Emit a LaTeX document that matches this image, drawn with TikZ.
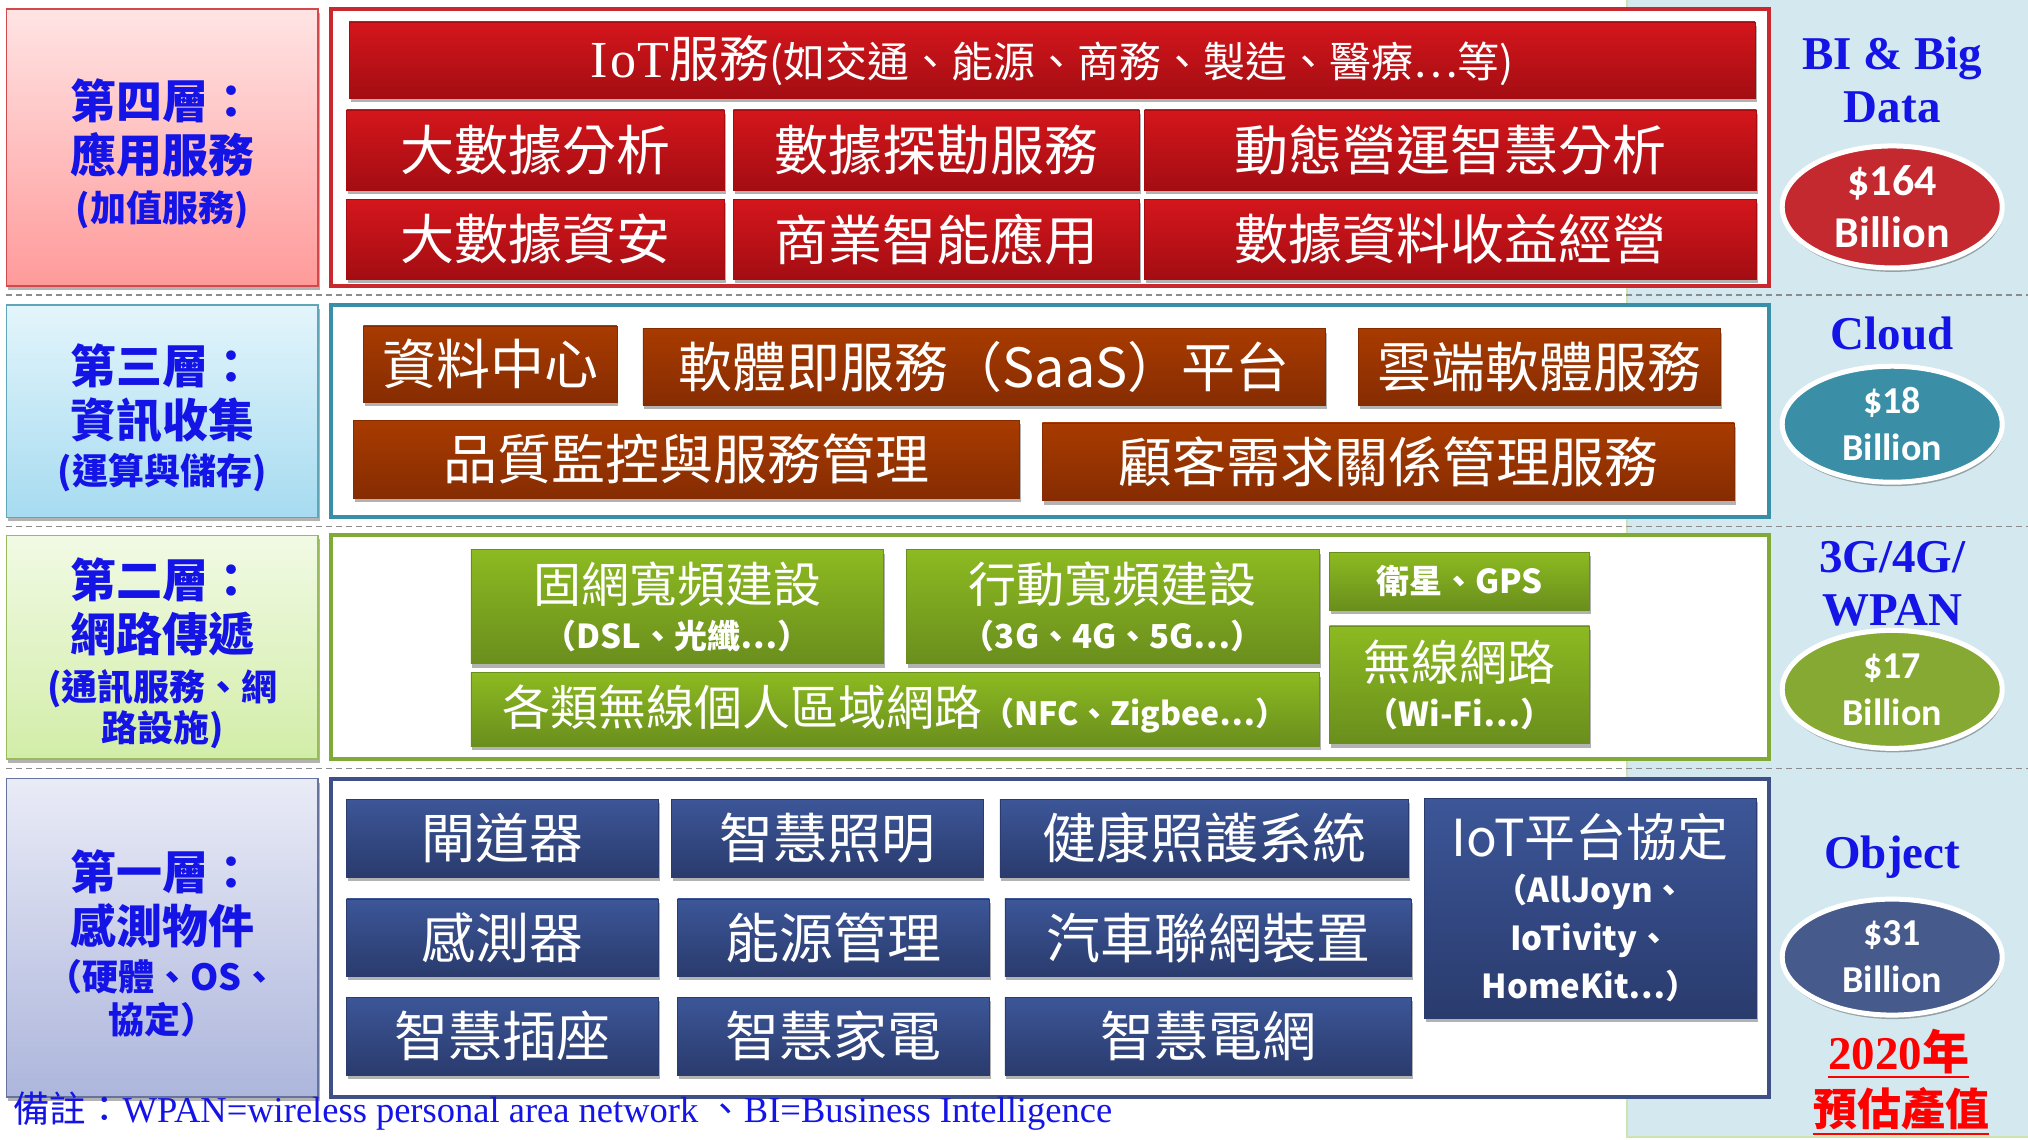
\documentclass[tikz,border=0pt]{standalone}
\usepackage{fontspec}
\setmainfont{Liberation Serif}
\newfontfamily\cjk{Noto Sans CJK TC}
\newfontfamily\carl{Carlito}
\usetikzlibrary{shadows,shapes.geometric}
\definecolor{rA}{HTML}{D4161C}\definecolor{rB}{HTML}{A30D12}
\definecolor{bA}{HTML}{A83B00}\definecolor{bB}{HTML}{862C02}
\definecolor{gA}{HTML}{8CBA21}\definecolor{gB}{HTML}{6A8E1D}
\definecolor{nA}{HTML}{3C5698}\definecolor{nB}{HTML}{2A3B6D}
\definecolor{fR}{HTML}{C9282E}\definecolor{fT}{HTML}{3A8FA8}
\definecolor{fG}{HTML}{80AA36}\definecolor{fN}{HTML}{3F5086}
\definecolor{lRa}{HTML}{FFE4E4}\definecolor{lRb}{HTML}{FF9A9A}
\definecolor{lTa}{HTML}{E3F5FB}\definecolor{lTb}{HTML}{A6DBF0}
\definecolor{lGa}{HTML}{F1FAE4}\definecolor{lGb}{HTML}{D2EDA8}
\definecolor{lNa}{HTML}{E9EBF6}\definecolor{lNb}{HTML}{ADB6DC}
\definecolor{labblue}{HTML}{1414E6}
\definecolor{rbg}{HTML}{D4E9EF}\definecolor{redge}{HTML}{CFE3B2}
\definecolor{eR}{HTML}{C3292F}\definecolor{eT}{HTML}{3A8FA6}
\definecolor{eG}{HTML}{86A933}\definecolor{eN}{HTML}{475A8C}
\newcommand\bx[7]{\node[#2, anchor=north west, minimum width={(#5-#3)*1.2934pt}, minimum height={(#6-#4)*1.2934pt}] (#1) at (#3,#4) {#7};}
\newcommand\lift{\rule{0pt}{52pt}}
\tikzset{
 base/.style={rectangle, inner sep=0pt, outer sep=0pt, align=center, text=white},
 shad/.style={drop shadow={shadow xshift=1.5pt, shadow yshift=-4pt, opacity=0.3, fill=black}},
 redbox/.style={base, shad, top color=rA, bottom color=rB, draw=rB, line width=0.5pt, font=\cjk\fontsize{54}{60}\selectfont},
 brbox/.style={base, shad, top color=bA, bottom color=bB, draw=bB, line width=0.5pt, font=\cjk\fontsize{54}{60}\selectfont},
 grbox/.style={base, shad, top color=gA, bottom color=gB, draw=gB, line width=0.5pt, font=\cjk\fontsize{48}{46}\selectfont},
 nvbox/.style={base, shad, top color=nA, bottom color=nB, draw=nB, line width=0.5pt, font=\cjk\fontsize{54}{60}\selectfont},
 frame/.style={rectangle, inner sep=0pt, outer sep=0pt, fill=white, line width=4pt},
 lab/.style={rectangle, inner sep=0pt, outer sep=0pt, align=center, text=labblue, line width=1.5pt, shad, font=\cjk\bfseries\fontsize{46}{54}\selectfont},
 sep/.style={draw=black!45, line width=1.3pt, dash pattern=on 6pt off 4pt},
 rtxt/.style={text=labblue, align=center, inner sep=0pt, font=\bfseries\fontsize{47}{53}\selectfont},
 ell/.style={ellipse, draw=white, line width=5pt, inner sep=0pt, text=white, align=center, minimum width=220pt, minimum height=122pt,
   drop shadow={shadow xshift=1pt, shadow yshift=-4pt, opacity=0.3, fill=black}, font=\carl\bfseries\fontsize{44}{52}\selectfont}
}
\begin{document}
\begin{tikzpicture}[x=1.2934pt,y=-1.2934pt]
\useasboundingbox[fill=white] (0,0) rectangle (1568,881);
% right column background
\bx{rbgnode}{rectangle, fill=rbg, inner sep=0pt, outer sep=0pt}{1258}{0}{1568}{879}{}
\draw[redge, line width=2.5pt] (rbgnode.north west) -- (rbgnode.south west) -- (rbgnode.south east);
% separators
\draw[sep] (5,228) -- (1568,228);
\draw[sep] (5,407) -- (1568,407);
\draw[sep] (5,594) -- (1568,594);
% left labels
\bx{L4}{lab, top color=lRa, bottom color=lRb, draw=fR!85}{5}{7}{246}{221}{\lift 第四層：\\ 應用服務\\[-5pt] {\fontsize{36}{40}\selectfont (加值服務)}}
\bx{L3}{lab, top color=lTa, bottom color=lTb, draw=fT!80}{5}{236}{246}{400}{\lift 第三層：\\ 資訊收集\\[-7pt] {\fontsize{36}{40}\selectfont (運算與儲存)}}
\bx{L2}{lab, top color=lGa, bottom color=lGb, draw=fG!80}{5}{414}{246}{587}{\lift 第二層：\\ 網路傳遞\\[-5pt] {\fontsize{36}{40}\selectfont (通訊服務、網}\\[-13pt] {\fontsize{36}{40}\selectfont 路設施)}}
\bx{L1}{lab, top color=lNa, bottom color=lNb, draw=fN!80}{5}{602}{246}{848}{\lift 第一層：\\ 感測物件\\[-7pt] {\fontsize{36}{40}\selectfont （硬體、OS、}\\[-11pt] {\fontsize{36}{40}\selectfont 協定）}}
% frames
\bx{F4}{frame, draw=fR}{256}{7}{1368}{221}{}
\bx{F3}{frame, draw=fT}{256}{236}{1368}{400}{}
\bx{F2}{frame, draw=fG}{256}{414}{1368}{587}{}
\bx{F1}{frame, draw=fN}{256}{602}{1368}{848}{}
% layer 4
\bx{iot}{redbox}{270}{17}{1357}{76}{{\rmfamily\fontsize{52}{52}\selectfont I\kern2.5pt o\kern1.5pt T}{\fontsize{50}{50}\selectfont 服務}{\fontsize{42}{42}\selectfont (如交通、能源、商務、製造、醫療…等)}}
\bx{r1}{redbox}{268}{85}{560}{147}{大數據分析}
\bx{r2}{redbox}{567}{85}{881}{147}{數據探勘服務}
\bx{r3}{redbox}{885}{85}{1358}{147}{動態營運智慧分析}
\bx{r4}{redbox}{268}{154}{560}{216}{大數據資安}
\bx{r5}{redbox}{567}{154}{881}{216}{商業智能應用}
\bx{r6}{redbox}{885}{154}{1358}{216}{數據資料收益經營}
% layer 3
\bx{b1}{brbox}{281}{252}{477}{311}{資料中心}
\bx{b2}{brbox}{497}{254}{1025}{313}{軟體即服務（SaaS）平台}
\bx{b3}{brbox}{1050}{254}{1330}{313}{雲端軟體服務}
\bx{b4}{brbox}{273}{325}{788}{385}{品質監控與服務管理}
\bx{b5}{brbox}{806}{327}{1341}{387}{顧客需求關係管理服務}
% layer 2
\bx{g1}{grbox}{364}{425}{683}{513}{固網寬頻建設\\ {\bfseries\fontsize{33}{36}\selectfont （DSL、光纖…）}}
\bx{g2}{grbox}{701}{425}{1020}{513}{行動寬頻建設\\ {\bfseries\fontsize{33}{36}\selectfont （3G、4G、5G…）}}
\bx{g3}{grbox}{1028}{427}{1229}{472}{{\bfseries\fontsize{33}{36}\selectfont 衛星、GPS}}
\bx{g4}{grbox}{364}{520}{1020}{577}{各類無線個人區域網路{\bfseries\fontsize{32}{36}\selectfont （NFC、Zigbee…）}}
\bx{g5}{grbox}{1028}{484}{1229}{575}{無線網路\\ {\bfseries\fontsize{33}{36}\selectfont （Wi-Fi…）}}
% layer 1
\bx{n1}{nvbox}{268}{618}{509}{678}{閘道器}
\bx{n2}{nvbox}{519}{618}{760}{678}{智慧照明}
\bx{n3}{nvbox}{773}{618}{1089}{678}{健康照護系統}
\bx{n4}{nvbox}{268}{695}{509}{755}{感測器}
\bx{n5}{nvbox}{524}{695}{765}{755}{能源管理}
\bx{n6}{nvbox}{777}{695}{1091}{755}{汽車聯網裝置}
\bx{n7}{nvbox}{268}{771}{509}{831}{智慧插座}
\bx{n8}{nvbox}{524}{771}{765}{831}{智慧家電}
\bx{n9}{nvbox}{777}{771}{1091}{831}{智慧電網}
\bx{n10}{nvbox, font=\cjk\fontsize{33}{48}\selectfont}{1101}{617}{1358}{787}{{\fontsize{51}{52}\selectfont IoT平台協定}\\[-2pt] \bfseries （AllJoyn、\\ \bfseries IoTivity、\\ \bfseries HomeKit…）}
% right column
\node[rtxt] (t4) at (1463,62) {BI \& Big\\ Data};
\node[ell, fill=eR] (e4) at (1463,160) {\$164\\ Billion};
\node[rtxt] (t3) at (1463,258) {Cloud};
\node[ell, fill=eT, minimum height=116pt, font=\carl\bfseries\fontsize{38}{47}\selectfont] (e3) at (1463,328) {\$18\\ Billion};
\node[rtxt] (t2) at (1463,451) {3G/4G/\\ WPAN};
\node[ell, fill=eG, minimum height=118pt, font=\carl\bfseries\fontsize{38}{47}\selectfont] (e2) at (1463,533) {\$17\\ Billion};
\node[rtxt] (t1) at (1463,663) {Object};
\node[ell, fill=eN, minimum height=116pt, font=\carl\bfseries\fontsize{38}{47}\selectfont] (e1) at (1463,740) {\$31\\ Billion};
\node[rtxt, text=red, anchor=base] (y1) at (1468,827) {2020{\cjk\bfseries 年}};
\node[rtxt, text=red, anchor=base, font=\cjk\bfseries\fontsize{44}{50}\selectfont] (y2) at (1470,870) {預估產值};
\draw[red, line width=2pt] ([yshift=-7pt]y1.base west) -- ([yshift=-7pt]y1.base east);
\draw[red, line width=2pt] ([yshift=-9pt]y2.base west) -- ([yshift=-9pt]y2.base east);
% footnote
\node[anchor=base west, inner sep=0pt, text=labblue, font=\fontsize{36.5}{40}\selectfont] (note) at (10,868) {{\cjk 備註：}WPAN=wireless personal area network {\cjk 、}BI=Business Intelligence};
\end{tikzpicture}
\end{document}
